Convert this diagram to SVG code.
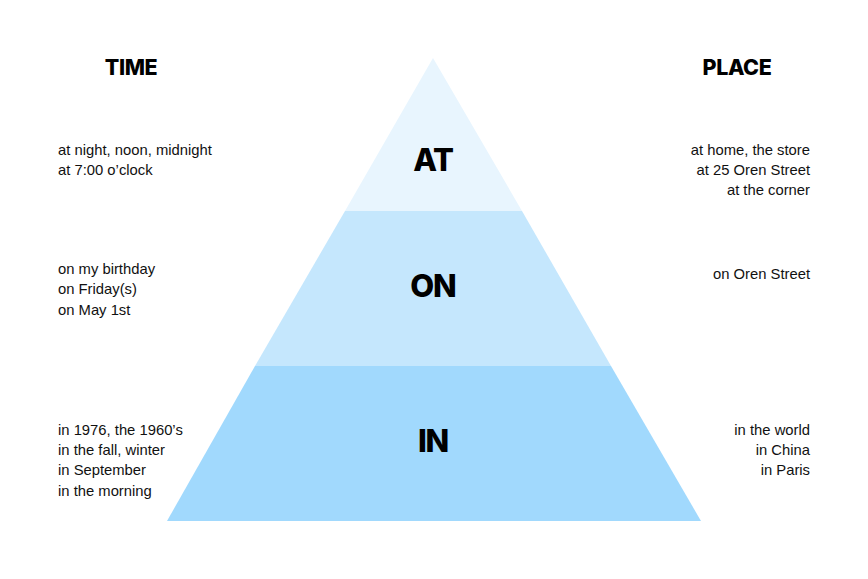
<svg xmlns="http://www.w3.org/2000/svg" width="868" height="579" viewBox="0 0 868 579">
<style>
.h{font-family:Inter,"DejaVu Sans",sans-serif;font-weight:800;font-size:21.5px;letter-spacing:-0.4px;fill:#000;text-anchor:middle}
.c{font-family:Inter,"DejaVu Sans",sans-serif;font-weight:800;font-size:31px;letter-spacing:-1.2px;fill:#000;text-anchor:middle}
.t{font-family:"Liberation Sans",Arial,sans-serif;font-size:14.8px;fill:#111}
.r{text-anchor:end}
</style>
<rect width="868" height="579" fill="#fff"/>
<g id="pyramid">
<g id="band-in"><polygon points="255,366 611,366 701,521 167,521" fill="#A1D9FD"/><text class="c" x="433" y="452">IN</text></g>
<g id="band-on"><polygon points="345,211 522,211 611,366 255,366" fill="#C5E7FD"/><text class="c" x="433" y="297">ON</text></g>
<g id="band-at"><polygon points="433,58 522,211 345,211" fill="#E8F5FE"/><text class="c" x="433" y="171">AT</text></g>
</g>
<g id="time">
<text class="h" x="131" y="75">TIME</text>
<text class="t" x="58" y="155">at night, noon, midnight</text>
<text class="t" x="58" y="175">at 7:00 o’clock</text>
<text class="t" x="58" y="274">on my birthday</text>
<text class="t" x="58" y="294">on Friday(s)</text>
<text class="t" x="58" y="315">on May 1st</text>
<text class="t" x="58" y="435">in 1976, the 1960’s</text>
<text class="t" x="58" y="455">in the fall, winter</text>
<text class="t" x="58" y="475">in September</text>
<text class="t" x="58" y="496">in the morning</text>
</g>
<g id="place">
<text class="h" x="737" y="75">PLACE</text>
<text class="t r" x="810" y="155">at home, the store</text>
<text class="t r" x="810" y="175">at 25 Oren Street</text>
<text class="t r" x="810" y="195">at the corner</text>
<text class="t r" x="810" y="279">on Oren Street</text>
<text class="t r" x="810" y="435">in the world</text>
<text class="t r" x="810" y="455">in China</text>
<text class="t r" x="810" y="475">in Paris</text>
</g>
</svg>
